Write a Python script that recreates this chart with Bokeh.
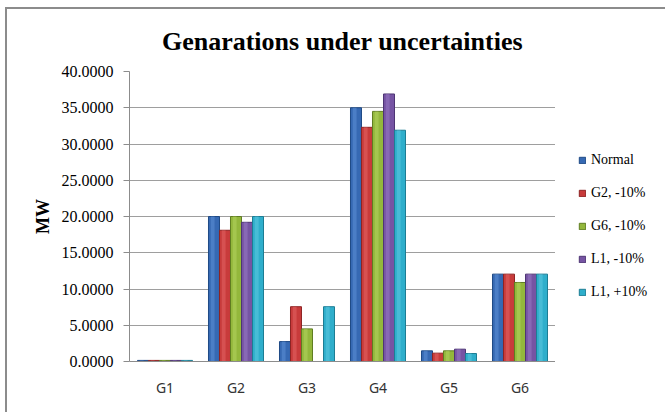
from bokeh.plotting import figure
from bokeh.layouts import row
from bokeh.models import (FactorRange, Range1d, NumeralTickFormatter, Legend,
                          LegendItem, FixedTicker, ColumnDataSource)
from bokeh.transform import dodge
from bokeh.embed import file_html
from bokeh.resources import INLINE

categories = ["G1", "G2", "G3", "G4", "G5", "G6"]
series_names = ["Normal", "G2, -10%", "G6, -10%", "L1, -10%", "L1, +10%"]
normal = [0.15, 20.0, 2.75, 35.0, 1.47, 12.05]
g2_minus10 = [0.15, 18.1, 7.56, 32.3, 1.15, 12.05]
g6_minus10 = [0.15, 20.0, 4.5, 34.5, 1.47, 10.9]
l1_minus10 = [0.15, 19.2, 0.0, 36.9, 1.7, 12.05]
l1_plus10 = [0.15, 20.0, 7.56, 31.9, 1.1, 12.05]
y_ticks = [0, 5, 10, 15, 20, 25, 30, 35, 40]

fills = ["#3669b3", "#c83b3b", "#93b73c", "#7654a3", "#2faecb"]
edges = ["#1f4a85", "#8e2424", "#5f7d22", "#4e3574", "#1d7d94"]
highlights = ["#5d8fd6", "#e26464", "#b3d45e", "#9878c4", "#5cc8e0"]

source = ColumnDataSource(dict(cat=categories, s0=normal, s1=g2_minus10,
                               s2=g6_minus10, s3=l1_minus10, s4=l1_plus10))

p = figure(x_range=FactorRange(factors=categories, range_padding=0),
           y_range=Range1d(0, 40), width=548, height=403,
           output_backend="svg", toolbar_location=None,
           min_border_left=122, min_border_right=0,
           min_border_top=61, min_border_bottom=51)

p.title.text = "Genarations under uncertainties"
p.title.align = "center"
p.title.text_font = "Liberation Serif"
p.title.text_font_size = "26px"
p.title.text_font_style = "bold"
p.title.text_color = "#000000"
p.title.standoff = 31

p.outline_line_color = None
p.xgrid.grid_line_color = None
p.ygrid.grid_line_color = "#9e9e9e"
p.ygrid.grid_line_width = 1

bw = 0.155
offsets = [-2 * bw, -bw, 0, bw, 2 * bw]
for i, off in enumerate(offsets):
    p.vbar(x=dodge("cat", off, range=p.x_range), top="s%d" % i, width=bw,
           source=source, fill_color=fills[i], line_color=edges[i],
           line_width=1)
    p.vbar(x=dodge("cat", off - bw * 0.12, range=p.x_range), top="s%d" % i,
           width=bw * 0.35, source=source, fill_color=highlights[i],
           fill_alpha=0.55, line_color=None)

p.yaxis.ticker = FixedTicker(ticks=y_ticks)
p.yaxis.formatter = NumeralTickFormatter(format="0.0000")
p.yaxis.major_label_text_font = "Liberation Serif"
p.yaxis.major_label_text_font_size = "16px"
p.yaxis.major_label_text_color = "#000000"
p.yaxis.major_tick_out = 6
p.yaxis.major_tick_in = 0
p.yaxis.minor_tick_line_color = None
p.yaxis.axis_line_color = "#8c8c8c"
p.yaxis.major_tick_line_color = "#8c8c8c"
p.yaxis.major_label_standoff = 10
p.yaxis.axis_label = "MW"
p.yaxis.axis_label_text_font = "Liberation Serif"
p.yaxis.axis_label_text_font_size = "18px"
p.yaxis.axis_label_text_font_style = "bold"
p.yaxis.axis_label_text_color = "#000000"
p.yaxis.axis_label_standoff = 6

p.xaxis.major_label_text_font = "Noto Sans"
p.xaxis.major_label_text_font_size = "14px"
p.xaxis.major_label_text_color = "#333333"
p.xaxis.major_tick_line_color = None
p.xaxis.minor_tick_line_color = None
p.xaxis.axis_line_color = "#8c8c8c"
p.xaxis.major_label_standoff = 10

# legend panel (proxy bars sit outside its visible range)
lp = figure(width=110, height=403, output_backend="svg", toolbar_location=None,
            x_range=Range1d(0, 1), y_range=Range1d(0, 1),
            min_border=0, min_border_left=0, min_border_right=0,
            min_border_top=0, min_border_bottom=0)
lp.axis.visible = False
lp.grid.visible = False
lp.outline_line_color = None
proxies = []
for i in range(5):
    proxies.append(lp.vbar(x=[10], top=[10], bottom=[9], width=0.1,
                           fill_color=fills[i], line_color=edges[i]))
items = [LegendItem(label=series_names[i], renderers=[proxies[i]]) for i in range(5)]
legend = Legend(items=items, location=(23, 61), padding=0, margin=0,
                border_line_color=None, background_fill_alpha=0,
                glyph_width=8, glyph_height=8, label_height=16, spacing=17,
                label_standoff=5, label_text_font="Liberation Serif",
                label_text_font_size="14px", label_text_color="#000000")
lp.add_layout(legend)

layout = row(p, lp, spacing=0,
             styles={"margin-left": "5px", "margin-top": "7px",
                     "border-left": "2px solid #8c8c8c",
                     "border-top": "2px solid #8c8c8c"})

open("out.html", "w").write(file_html(layout, INLINE))
